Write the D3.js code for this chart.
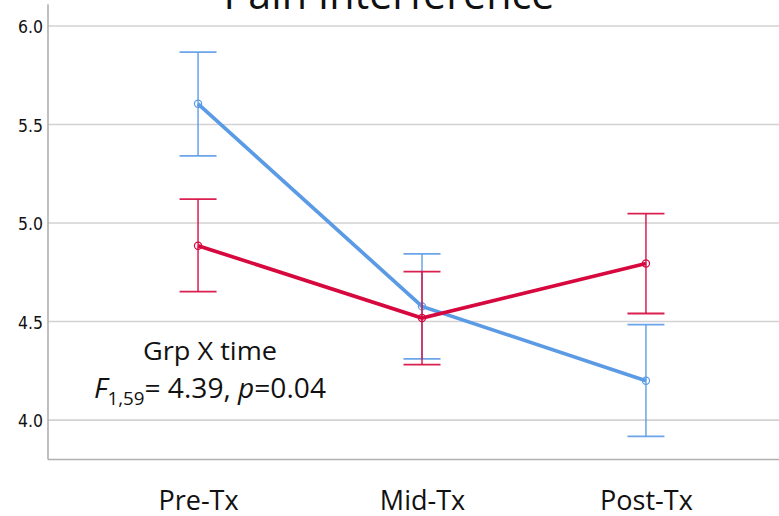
<!DOCTYPE html>
<html>
<head>
<meta charset="utf-8">
<script src="https://cdn.jsdelivr.net/npm/d3@7"></script>
<style>
  html, body { margin: 0; padding: 0; background: #fff; }
  svg { display: block; }
</style>
</head>
<body>
<svg id="chart" width="779" height="516"></svg>
<script>
// ---- data ----
const categories = ["Pre-Tx", "Mid-Tx", "Post-Tx"];
const yTicks = [4.0, 4.5, 5.0, 5.5, 6.0];

const blueMean  = [5.605, 4.577, 4.200];
const blueUpper = [5.867, 4.843, 4.484];
const blueLower = [5.341, 4.311, 3.917];

const redMean  = [4.885, 4.518, 4.795];
const redUpper = [5.121, 4.753, 5.048];
const redLower = [4.652, 4.281, 4.541];

const title = "Pain Interference";
const annotationLine1 = "Grp X time";

// ---- layout ----
const svg = d3.select("#chart");
const W = 779, H = 516;
const plotLeft = 48, plotBottom = 459.5, plotTop = 4.3, plotRight = 796;

const x = d3.scalePoint().domain(categories).range([plotLeft, plotRight]).padding(0.67);
const y = d3.scaleLinear().domain([3.8, 6.11]).range([plotBottom, plotTop]);

// gridlines
svg.append("g").selectAll("line").data(yTicks).join("line")
  .attr("x1", plotLeft).attr("x2", W)
  .attr("y1", d => y(d)).attr("y2", d => y(d))
  .attr("stroke", "#d2d2d2").attr("stroke-width", 1.6);

// axes lines
svg.append("line").attr("x1", plotLeft).attr("x2", plotLeft)
  .attr("y1", plotTop).attr("y2", plotBottom)
  .attr("stroke", "#b0b0b0").attr("stroke-width", 1.6);
svg.append("line").attr("x1", plotLeft).attr("x2", W)
  .attr("y1", plotBottom).attr("y2", plotBottom)
  .attr("stroke", "#b0b0b0").attr("stroke-width", 1.6);

// y tick labels
const yAxis = d3.axisLeft(y).tickValues(yTicks).tickFormat(d3.format(".1f")).tickSize(0).tickPadding(5);
const ya = svg.append("g").attr("transform", `translate(${plotLeft},0)`).call(yAxis);
ya.select(".domain").remove();
ya.selectAll("text")
  .attr("font-family", "'DejaVu Sans Condensed', 'Roboto', sans-serif")
  .attr("font-size", 18.5).attr("fill", "#111").attr("dy", "0.36em")
  .attr("textLength", 25).attr("lengthAdjust", "spacingAndGlyphs");

// x labels
const xAxis = d3.axisBottom(x).tickSize(0).tickPadding(0);
const xa = svg.append("g").attr("transform", `translate(0,${plotBottom})`).call(xAxis);
xa.select(".domain").remove();
xa.selectAll("text")
  .attr("dy", null).attr("y", 50)
  .attr("font-family", "'Open Sans', 'Noto Sans', sans-serif")
  .attr("font-size", 27).attr("fill", "#111");

// title (cropped at top, as in the reference)
svg.append("text").attr("x", 389).attr("y", 8.5)
  .attr("text-anchor", "middle")
  .attr("font-family", "'Open Sans', 'Noto Sans', sans-serif")
  .attr("font-size", 42).attr("fill", "#111")
  .attr("textLength", 331).attr("lengthAdjust", "spacingAndGlyphs")
  .text(title);

// series
const series = [
  { name: "blue", color: "#5b9be6", mean: blueMean, upper: blueUpper, lower: blueLower },
  { name: "red",  color: "#d6083e", mean: redMean,  upper: redUpper,  lower: redLower }
];

const cap = 18.5;
series.forEach(s => {
  const g = svg.append("g");
  const pts = categories.map((c, i) => ({ c, m: s.mean[i], u: s.upper[i], l: s.lower[i] }));
  // error bars
  g.selectAll("line.v").data(pts).join("line")
    .attr("x1", d => x(d.c)).attr("x2", d => x(d.c))
    .attr("y1", d => y(d.u)).attr("y2", d => y(d.l))
    .attr("stroke", s.color).attr("stroke-width", 1.5).attr("opacity", 0.9);
  ["u", "l"].forEach(k => {
    g.selectAll("line.c" + k).data(pts).join("line")
      .attr("x1", d => x(d.c) - cap).attr("x2", d => x(d.c) + cap)
      .attr("y1", d => y(d[k])).attr("y2", d => y(d[k]))
      .attr("stroke", s.color).attr("stroke-width", 1.8).attr("opacity", 0.9);
  });
  // mean line
  g.append("path").datum(pts)
    .attr("d", d3.line().x(d => x(d.c)).y(d => y(d.m)))
    .attr("fill", "none").attr("stroke", s.color).attr("stroke-width", 3.7);
  g.selectAll("circle").data(pts).join("circle")
    .attr("cx", d => x(d.c)).attr("cy", d => y(d.m)).attr("r", 3.6)
    .attr("fill", "none").attr("stroke", s.color).attr("stroke-width", 1.2);
});

// annotation
const ff = "'Open Sans', 'Noto Sans', sans-serif";
svg.append("text").attr("x", 210).attr("y", 360)
  .attr("text-anchor", "middle").attr("font-family", ff).attr("font-size", 26).attr("fill", "#111")
  .attr("textLength", 134).attr("lengthAdjust", "spacingAndGlyphs")
  .text(annotationLine1);

const t2 = svg.append("text").attr("x", 210).attr("y", 398)
  .attr("text-anchor", "middle").attr("font-family", ff).attr("font-size", 27).attr("fill", "#111")
  .attr("textLength", 232).attr("lengthAdjust", "spacingAndGlyphs");
t2.append("tspan").attr("font-style", "italic").text("F");
t2.append("tspan").attr("font-size", 18).attr("dy", 7).text("1,59");
t2.append("tspan").attr("dy", -7).text("= 4.39, ");
t2.append("tspan").attr("font-style", "italic").text("p");
t2.append("tspan").text("=0.04");
</script>
</body>
</html>
